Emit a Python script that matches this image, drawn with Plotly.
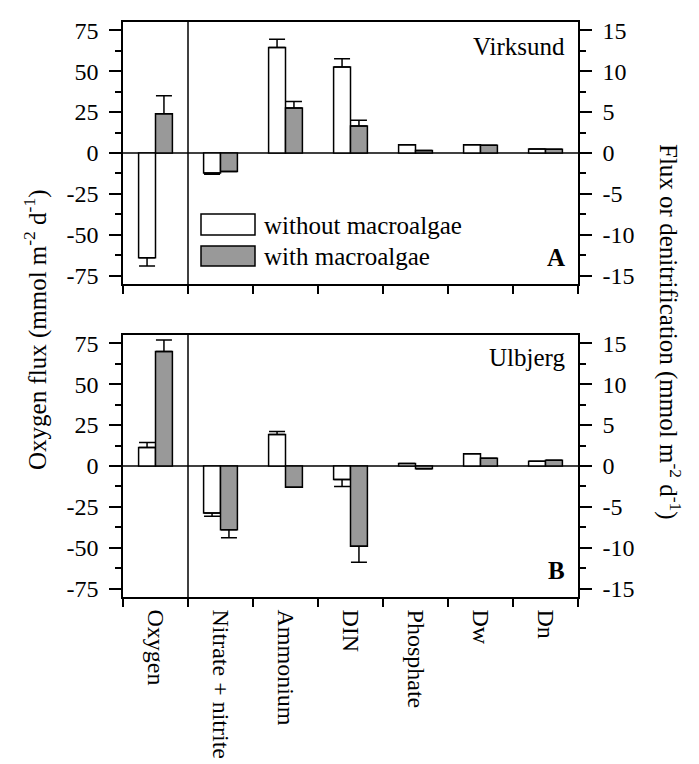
import plotly.graph_objects as go

categories = ["Oxygen", "Nitrate + nitrite", "Ammonium", "DIN", "Phosphate", "Dw", "Dn"]
nutrients = categories[1:]

# Panel A - Virksund
a_oxy_without, a_oxy_without_err = -64.0, 5.0
a_oxy_with, a_oxy_with_err = 24.0, 11.0
a_without = [-2.45, 12.9, 10.5, 1.0, 1.0, 0.5]
a_without_err = [0.15, 1.0, 1.0, 0.0, 0.0, 0.0]
a_with = [-2.25, 5.5, 3.3, 0.3, 0.95, 0.45]
a_with_err = [0.0, 0.8, 0.7, 0.0, 0.0, 0.0]

# Panel B - Ulbjerg
b_oxy_without, b_oxy_without_err = 11.3, 3.0
b_oxy_with, b_oxy_with_err = 70.0, 7.0
b_without = [-5.75, 3.85, -1.65, 0.3, 1.5, 0.58]
b_without_err = [0.4, 0.35, 0.85, 0.0, 0.0, 0.0]
b_with = [-7.8, -2.6, -9.8, -0.33, 0.95, 0.7]
b_with_err = [0.95, 0.0, 1.95, 0.0, 0.0, 0.0]

left_ticks = [-75, -50, -25, 0, 25, 50, 75]
left_labels = ["-75", "-50", "-25", "0", "25", "50", "75"]
right_ticks = [-15, -10, -5, 0, 5, 10, 15]
right_labels = ["-15", "-10", "-5", "0", "5", "10", "15"]

FONT = "Liberation Serif, Times New Roman, serif"
WHITE = "white"
GRAY = "#999999"
BW = 0.26

W, H = 699, 764
ML, MR, MT, MB = 123, 121, 22, 167
PW = W - ML - MR
PH = H - MT - MB


def px(x):
    return (x - ML) / PW


def py(y):
    return (H - MB - y) / PH


def err_dict(vals, errs, width):
    plus = [e if v >= 0 else 0 for v, e in zip(vals, errs)]
    minus = [e if v < 0 else 0 for v, e in zip(vals, errs)]
    return dict(type="data", symmetric=False, array=plus, arrayminus=minus,
                color="black", thickness=1.5, width=width)


fig = go.Figure()


def add_panel(xa, ya_left, ya_right, oxy_wo, oxy_wo_e, oxy_w, oxy_w_e, wo, wo_e, w, w_e):
    fig.add_trace(go.Bar(x=[categories[0]], y=[oxy_wo], xaxis=xa, yaxis=ya_left,
                         width=BW, offset=-BW, marker=dict(color=WHITE, line=dict(color="black", width=1.5)),
                         error_y=err_dict([oxy_wo], [oxy_wo_e], 8), showlegend=False))
    fig.add_trace(go.Bar(x=[categories[0]], y=[oxy_w], xaxis=xa, yaxis=ya_left,
                         width=BW, offset=0, marker=dict(color=GRAY, line=dict(color="black", width=1.5)),
                         error_y=err_dict([oxy_w], [oxy_w_e], 8), showlegend=False))
    fig.add_trace(go.Bar(x=nutrients, y=wo, xaxis=xa, yaxis=ya_right,
                         width=BW, offset=-BW, marker=dict(color=WHITE, line=dict(color="black", width=1.5)),
                         error_y=err_dict(wo, wo_e, 8), showlegend=False))
    fig.add_trace(go.Bar(x=nutrients, y=w, xaxis=xa, yaxis=ya_right,
                         width=BW, offset=0, marker=dict(color=GRAY, line=dict(color="black", width=1.5)),
                         error_y=err_dict(w, w_e, 8), showlegend=False))


add_panel("x", "y", "y2", a_oxy_without, a_oxy_without_err, a_oxy_with, a_oxy_with_err,
          a_without, a_without_err, a_with, a_with_err)
add_panel("x2", "y3", "y4", b_oxy_without, b_oxy_without_err, b_oxy_with, b_oxy_with_err,
          b_without, b_without_err, b_with, b_with_err)

domA = [1 - 262 / PH, 1]
domB = [0, 262 / PH]

xcommon = dict(type="category", categoryorder="array", categoryarray=categories,
               range=[-0.5, 6.5], showline=True, linecolor="black", linewidth=1.5,
               mirror=True, ticks="outside", tickson="boundaries", ticklen=8,
               tickwidth=1.5, tickcolor="black", showgrid=False, zeroline=False,
               automargin=False,
               tickfont=dict(family=FONT, size=24, color="black"))

ycommon = dict(showline=True, linecolor="black", linewidth=1.5, ticks="outside",
               ticklen=12, tickwidth=1.5, tickcolor="black", showgrid=False, zeroline=False,
               automargin=False,
               tickfont=dict(family=FONT, size=24, color="black"), ticklabelstandoff=6)

left = dict(ycommon, range=[-80, 80], tickmode="array", tickvals=left_ticks, ticktext=left_labels,
            minor=dict(tickmode="linear", tick0=0, dtick=12.5, ticks="outside", ticklen=6,
                       tickwidth=1.5, tickcolor="black"))
right = dict(ycommon, range=[-16, 16], tickmode="array", tickvals=right_ticks, ticktext=right_labels,
             minor=dict(tickmode="linear", tick0=0, dtick=2.5, ticks="outside", ticklen=6,
                        tickwidth=1.5, tickcolor="black"))

fig.update_layout(
    width=W, height=H,
    margin=dict(l=ML, r=MR, t=MT, b=MB, autoexpand=False),
    paper_bgcolor="white", plot_bgcolor="white",
    barmode="overlay",
    showlegend=False,
    font=dict(family=FONT, size=24, color="black"),
    xaxis=dict(xcommon, anchor="y", domain=[0, 1], showticklabels=False),
    yaxis=dict(left, anchor="x", domain=domA, side="left"),
    yaxis2=dict(right, anchor="x", overlaying="y", side="right"),
    xaxis2=dict(xcommon, anchor="y3", domain=[0, 1], showticklabels=True, tickangle=90,
                ticklabelstandoff=6),
    yaxis3=dict(left, anchor="x2", domain=domB, side="left"),
    yaxis4=dict(right, anchor="x2", overlaying="y3", side="right"),
)

line = dict(color="black", width=1.5)
shapes = []
for xa, ya in (("x", "y"), ("x2", "y3")):
    shapes.append(dict(type="line", xref=xa, yref=ya + " domain", x0=0.5, x1=0.5, y0=0, y1=1,
                       line=line, layer="below"))
    shapes.append(dict(type="line", xref=xa + " domain", yref=ya, x0=0, x1=1, y0=0, y1=0,
                       line=line, layer="below"))

# legend swatches
shapes.append(dict(type="rect", xref="paper", yref="paper", x0=px(201), x1=px(255),
                   y0=py(235), y1=py(214), fillcolor=WHITE, line=line))
shapes.append(dict(type="rect", xref="paper", yref="paper", x0=px(201), x1=px(255),
                   y0=py(266), y1=py(246), fillcolor=GRAY, line=line))
fig.update_layout(shapes=shapes)

ann = [
    dict(text="without macroalgae", x=px(262), y=py(225), xanchor="left", yanchor="middle", size=25),
    dict(text="with macroalgae", x=px(262), y=py(256), xanchor="left", yanchor="middle", size=25),
    dict(text="Virksund", x=px(567), y=py(46), xanchor="right", yanchor="middle", size=25),
    dict(text="Ulbjerg", x=px(567), y=py(357), xanchor="right", yanchor="middle", size=25),
    dict(text="<b>A</b>", x=px(567), y=py(257), xanchor="right", yanchor="middle", size=25),
    dict(text="<b>B</b>", x=px(567), y=py(570), xanchor="right", yanchor="middle", size=25),
    dict(text="Oxygen flux (mmol m<sup>-2</sup> d<sup>-1</sup>)", x=px(35), y=py(330),
         xanchor="center", yanchor="middle", textangle=-90, size=25),
    dict(text="Flux or denitrification (mmol m<sup>-2</sup> d<sup>-1</sup>)", x=px(670), y=py(332),
         xanchor="center", yanchor="middle", textangle=90, size=25),
]
for a in ann:
    s = a.pop("size")
    a.update(xref="paper", yref="paper", showarrow=False,
             font=dict(family=FONT, size=s, color="black"))
fig.update_layout(annotations=ann)

fig.write_html("out.html")
